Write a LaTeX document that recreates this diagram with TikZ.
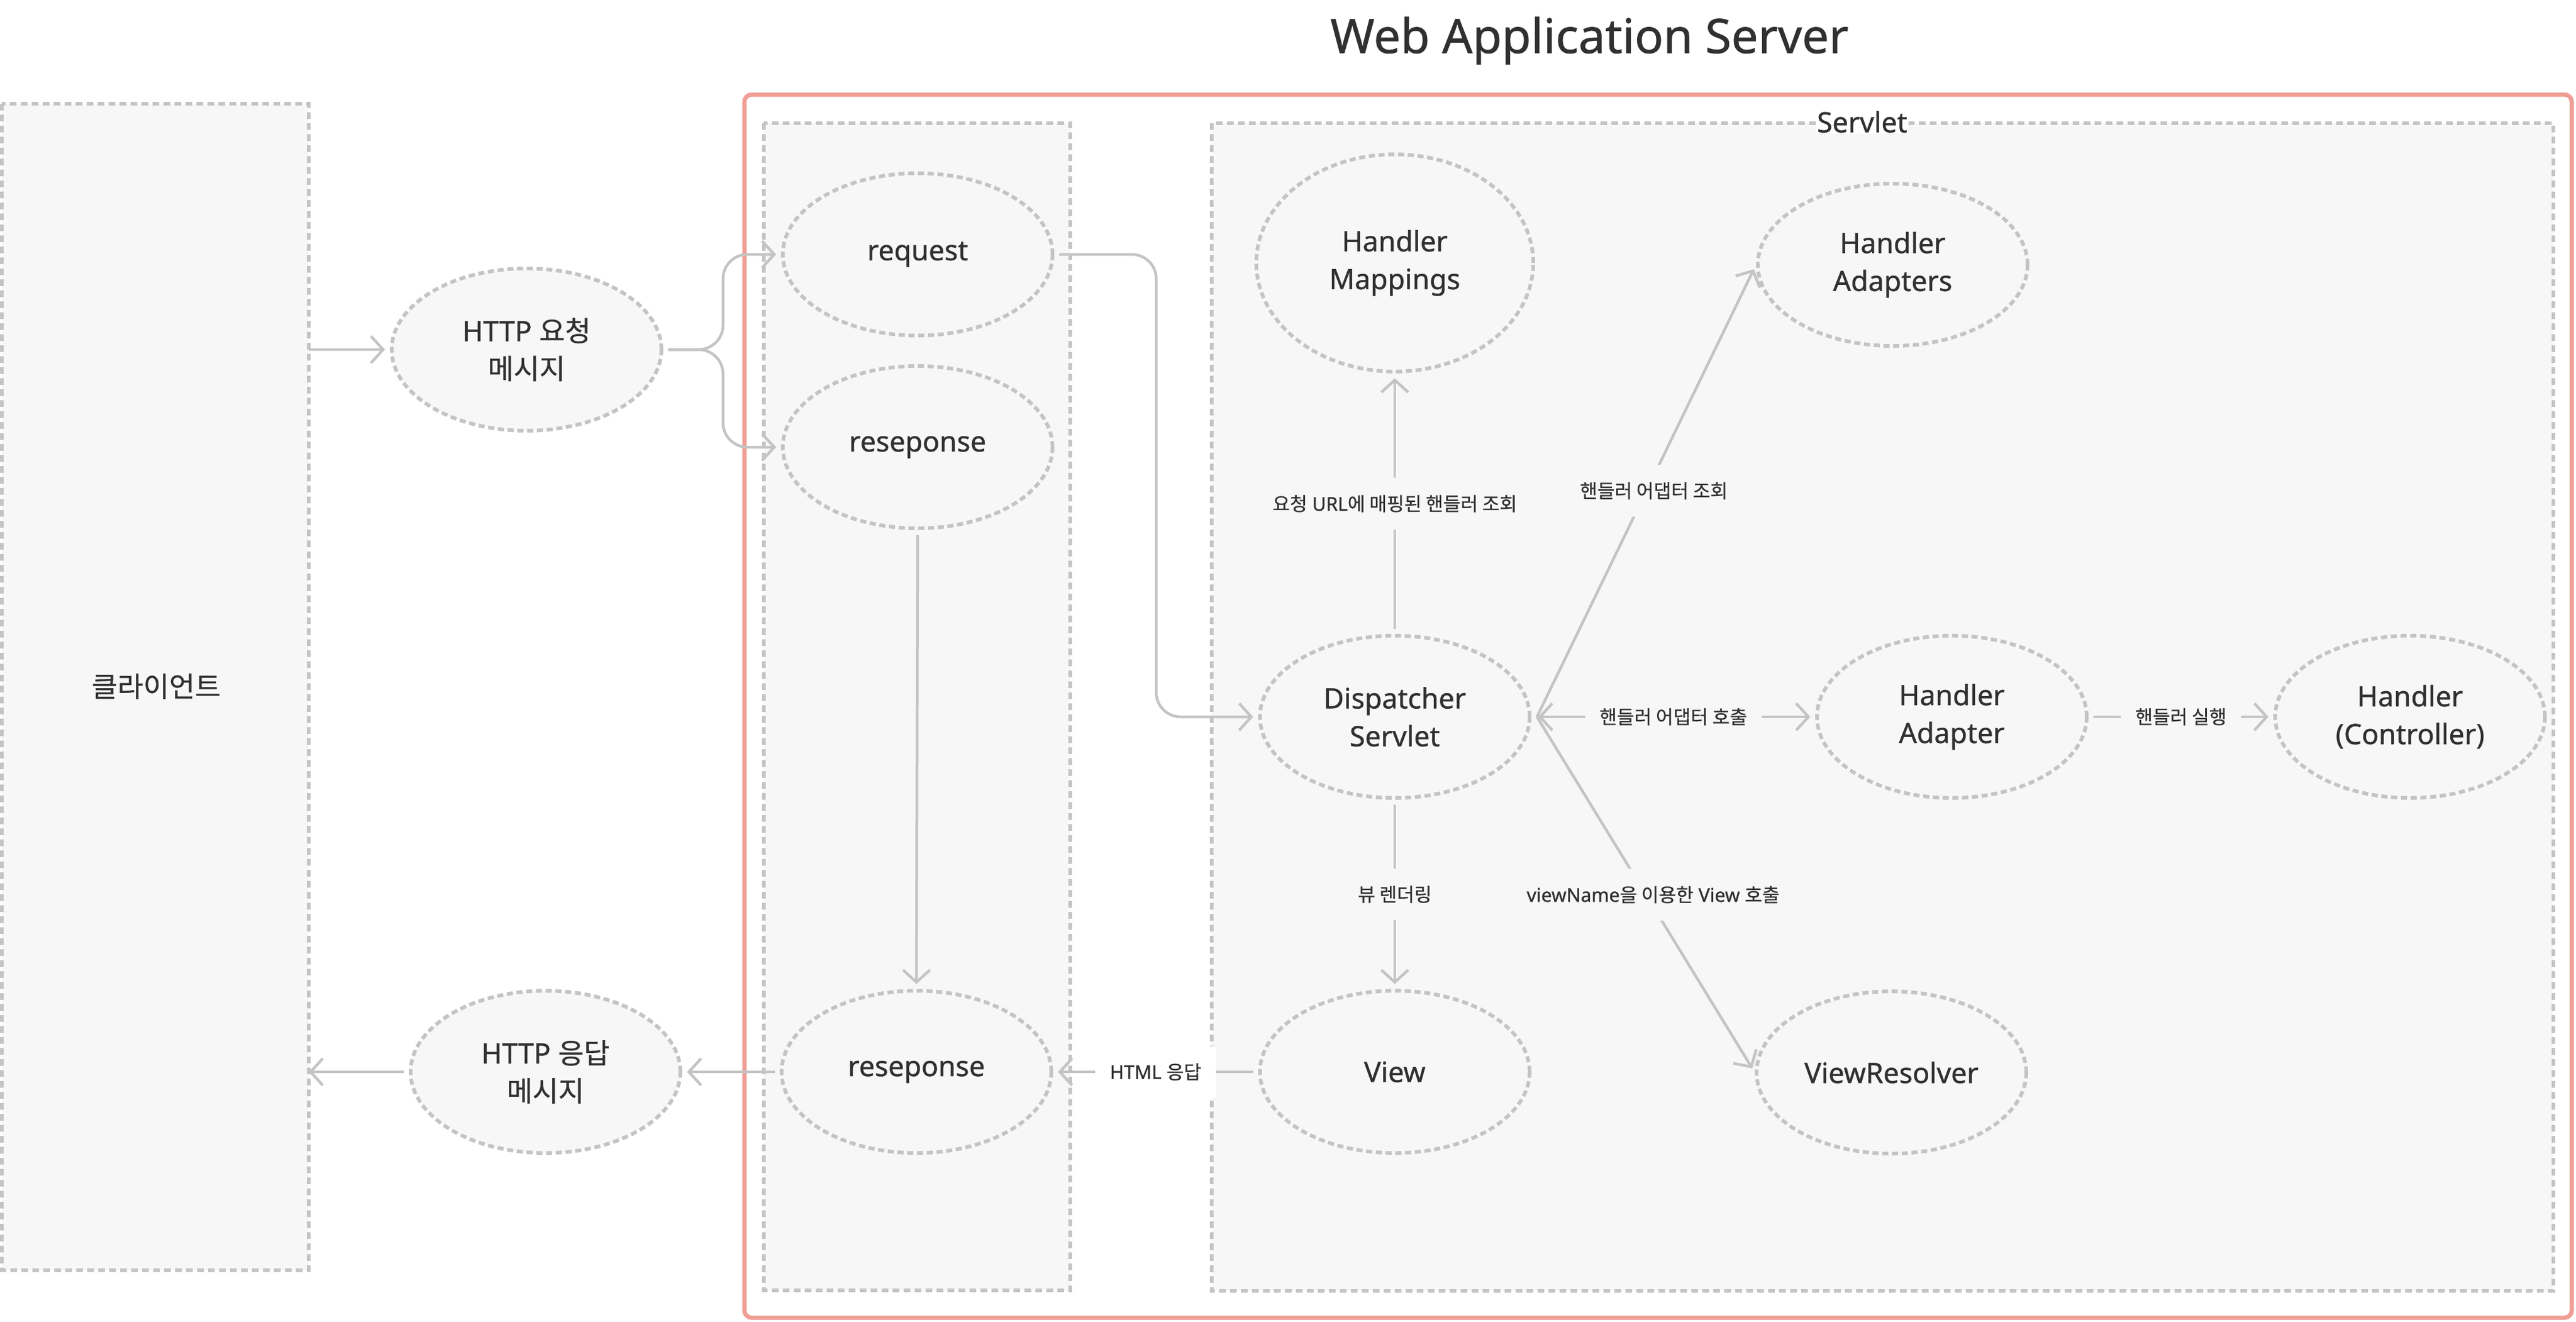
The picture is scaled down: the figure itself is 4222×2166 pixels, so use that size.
\documentclass[tikz,border=0pt]{standalone}
\usepackage{fontspec}
\setmainfont{Noto Sans}[RawFeature={embolden=0.8}]
\newfontfamily\kr{Noto Sans CJK KR}[RawFeature={embolden=0.6}]
\usetikzlibrary{shapes.geometric,arrows.meta}
\definecolor{boxfill}{HTML}{F7F7F7}
\definecolor{dashc}{HTML}{C4C4C4}
\definecolor{linec}{HTML}{C4C4C4}
\definecolor{txt}{HTML}{303030}
\definecolor{framec}{HTML}{F09E95}
\tikzset{barb/.tip={Straight Barb[length=20pt,width=44pt]}}
\begin{document}
\begin{tikzpicture}[x=1pt,y=-1pt,
  box/.style={draw=dashc, fill=boxfill, line width=5.5pt, dash pattern=on 11pt off 7pt},
  ell/.style={ellipse, draw=dashc, fill=boxfill, line width=6pt, dash pattern=on 10pt off 6pt,
    minimum width=442pt, minimum height=266pt, inner sep=0pt, align=center, text=txt,
    font=\fontsize{46}{62}\selectfont},
  conn/.style={draw=linec, line width=4.5pt, shorten <=8pt, shorten >=8pt, line join=round},
  arr/.style={conn, -barb},
  lbl/.style={fill=boxfill, text=txt, font=\fontsize{31}{38}\selectfont, inner xsep=24pt, inner ysep=28pt},
]
\useasboundingbox (0,0) rectangle (4222,2166);

% frames
\draw[draw=framec, line width=7pt, rounded corners=12pt] (1220,155) rectangle (4215,2160);
\draw[box] (3,170) rectangle (506,2082);
\draw[box] (1252,202) rectangle (1754,2115);
\draw[box] (1986,202) rectangle (4185,2116);

% titles
\node[text=txt, font=\fontsize{78}{90}\selectfont, anchor=base] (title) at (2605,87) {Web Application Server};
\node[fill=white, text=txt, font=\fontsize{46}{62}\selectfont, inner sep=2pt, anchor=base] (servletlbl) at (3052,217) {Servlet};
\node[text=txt, font=\kr\fontsize{46}{62}\selectfont] (client) at (256,1125) {클라이언트};

% nodes
\node[ell] (hreq) at (863,573) {HTTP {\kr 요청}\\{\kr 메시지}};
\node[ell] (req) at (1504,417) {request};
\node[ell] (resp1) at (1504,733) {reseponse};
\node[ell] (resp2) at (1502,1757) {reseponse};
\node[ell] (hres) at (894,1757) {HTTP {\kr 응답}\\{\kr 메시지}};
\node[ell] (view) at (2286,1757) {View};
\node[ell] (disp) at (2286,1175) {Dispatcher\\Servlet};
\node[ell] (hadapter) at (3199,1175) {Handler\\Adapter};
\node[ell] (handler) at (3950,1175) {Handler\\(Controller)};
\node[ell, minimum width=454pt, minimum height=356pt] (hmap) at (2286,431) {Handler\\Mappings};
\node[ell] (hads) at (3102,434) {Handler\\Adapters};
\node[ell] (vres) at (3100,1758) {ViewResolver};

% helper coordinates
\coordinate (cin) at (506,573);
\coordinate (cout) at (506,1757);
\coordinate (split) at (1185,573);
\coordinate (rbend) at (1895,417);
\coordinate (dx) at (2519,1175);

% connectors
\draw[arr, shorten <=0pt] (cin) -- (hreq.west);
\draw[arr, rounded corners=40pt] (hreq.east) -- (split) |- (req.west);
\draw[arr, rounded corners=40pt] (hreq.east) -- (split) |- (resp1.west);
\draw[arr, rounded corners=40pt] (req.east) -- (rbend) |- (disp.west);
\draw[arr] (resp1.south) -- (resp2.north);
\draw[arr] (view.west) -- node[lbl, fill=white] {HTML {\kr 응답}} (resp2.east);
\draw[arr] (resp2.west) -- (hres.east);
\draw[arr, shorten >=0pt] (hres.west) -- (cout);
\draw[arr] (disp.north) -- node[lbl] {{\kr 요청} URL{\kr 에 매핑된 핸들러 조회}} (hmap.south);
\draw[arr] (disp.south) -- node[lbl] {\kr 뷰 렌더링} (view.north);
\draw[conn, barb-barb, shorten <=11pt] (disp.east) -- node[lbl] {\kr 핸들러 어댑터 호출} (hadapter.west);
\draw[arr] (hadapter.east) -- node[lbl] {\kr 핸들러 실행} (handler.west);
\draw[arr, shorten <=0pt] (dx) -- node[lbl, xshift=12pt] {\kr 핸들러 어댑터 조회} (hads.west);
\draw[arr, shorten <=0pt] (dx) -- node[lbl, xshift=12pt] {viewName{\kr 을 이용한} View {\kr 호출}} (vres.west);
\end{tikzpicture}
\end{document}
